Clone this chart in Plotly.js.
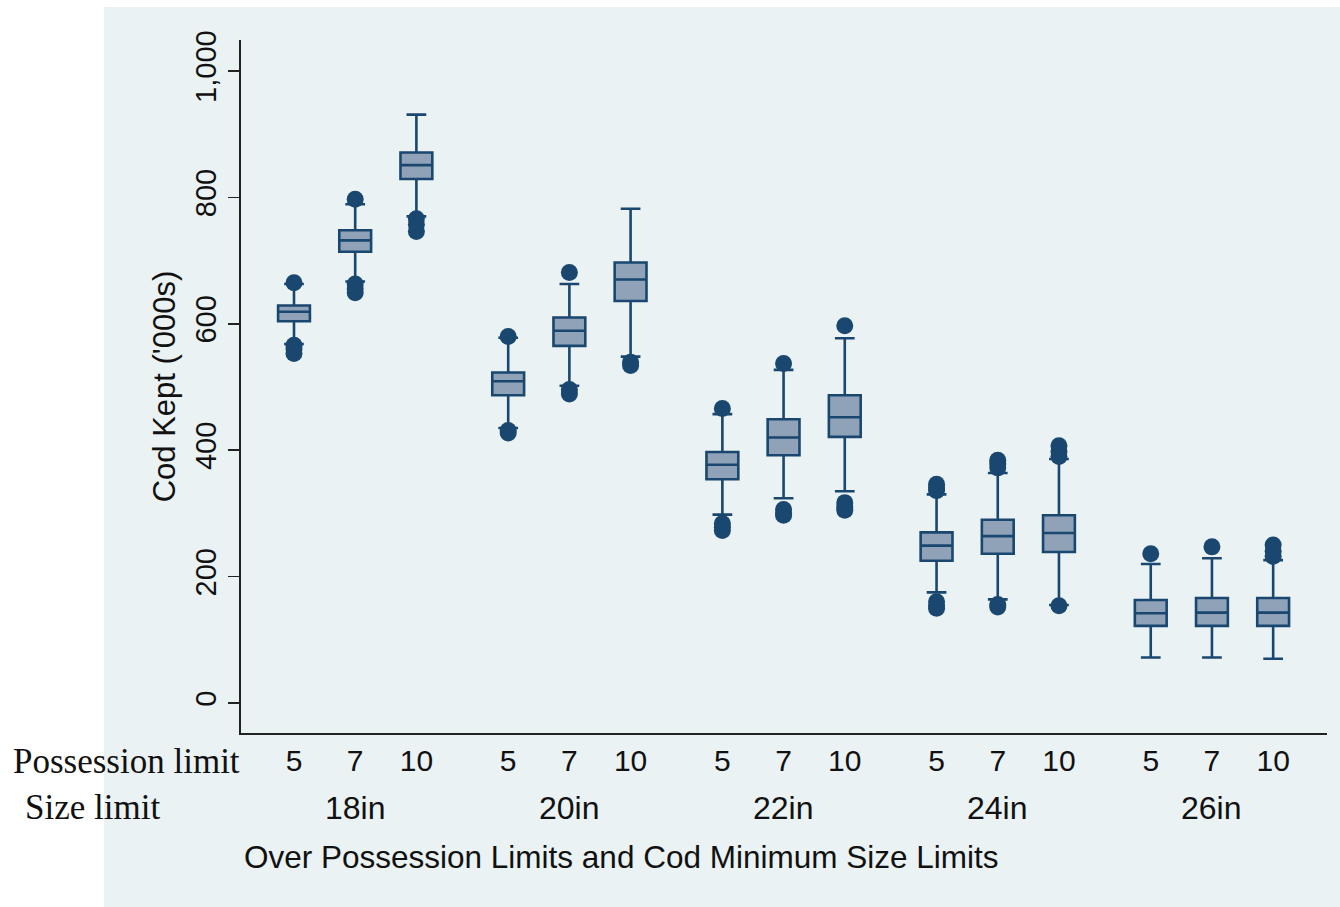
<!DOCTYPE html>
<html>
<head>
<meta charset="utf-8">
<script src="https://cdn.plot.ly/plotly-3.0.1.min.js"></script>
<style>html,body{margin:0;padding:0;background:#fff;}#chart{width:1340px;height:907px;}</style>
</head>
<body>
<div id="chart"></div>
<script>
// Categories
var sizeLimits = ['18in', '20in', '22in', '24in', '26in'];
var possLimits = ['5', '7', '10'];

// Box statistics, ordered: 18in(5,7,10), 20in(5,7,10), 22in, 24in, 26in
var q1         = [604, 714, 829, 487, 565, 636, 354, 392, 421, 225, 236, 239, 122, 122, 122];
var median     = [619, 732, 851, 509, 589, 670, 377, 420, 452, 249, 264, 269, 142, 143, 143];
var q3         = [629, 748, 871, 523, 610, 697, 397, 449, 487, 270, 290, 297, 163, 166, 166];
var lowerFence = [568, 667, 770, 435, 502, 548, 298, 324, 335, 175, 164, 155, 72, 72, 70];
var upperFence = [663, 789, 931, 578, 663, 782, 457, 527, 577, 330, 364, 386, 220, 229, 226];

// Outlying values per box
var outliers = [
  [665, 566, 560, 553],
  [797, 663, 655, 649],
  [766, 757, 746],
  [580, 431, 427],
  [681, 496, 489],
  [539, 534],
  [466, 284, 278, 273],
  [537, 306, 300, 297],
  [597, 317, 310, 305],
  [346, 340, 336, 160, 154, 150],
  [384, 378, 372, 156, 152],
  [407, 398, 390, 154],
  [236],
  [247],
  [250, 240, 232]
];

var yTicks = [0, 200, 400, 600, 800, 1000];
var yTickLabels = ['0', '200', '400', '600', '800', '1,000'];

var navy = 'rgb(26,71,111)';
var fill = 'rgb(143,162,184)';
var panel = 'rgb(234,242,243)';

// positions from category indices
var groupStep = 3.5;
var xs = [], tickText = [];
for (var g = 0; g < sizeLimits.length; g++) {
  for (var p = 0; p < possLimits.length; p++) {
    xs.push(g * groupStep + p);
    tickText.push(possLimits[p]);
  }
}
var ox = [], oy = [];
outliers.forEach(function (arr, i) {
  arr.forEach(function (v) { ox.push(xs[i]); oy.push(v); });
});

var boxTrace = {
  type: 'box',
  x: xs,
  q1: q1, median: median, q3: q3,
  lowerfence: lowerFence, upperfence: upperFence,
  boxpoints: false,
  width: 0.52,
  whiskerwidth: 0.62,
  fillcolor: fill,
  line: {color: navy, width: 2.6},
  hoverinfo: 'skip',
  showlegend: false
};
var outTrace = {
  type: 'scatter', mode: 'markers',
  x: ox, y: oy,
  marker: {color: navy, size: 17, line: {width: 0}},
  hoverinfo: 'skip', showlegend: false
};

var annotations = [];
for (var g2 = 0; g2 < sizeLimits.length; g2++) {
  annotations.push({
    x: g2 * groupStep + 1, xref: 'x', y: -0.108, yref: 'paper',
    text: sizeLimits[g2], showarrow: false,
    font: {family: 'Liberation Sans, Arial, sans-serif', size: 32, color: '#111'},
    xanchor: 'center', yanchor: 'middle'
  });
}
annotations.push({
  x: -0.1055, xref: 'paper', y: -0.0418, yref: 'paper', text: 'Possession limit',
  showarrow: false, xanchor: 'center', yanchor: 'middle',
  font: {family: 'Liberation Serif, Times New Roman, serif', size: 35, color: '#111'}
});
annotations.push({
  x: -0.1367, xref: 'paper', y: -0.108, yref: 'paper', text: 'Size limit',
  showarrow: false, xanchor: 'center', yanchor: 'middle',
  font: {family: 'Liberation Serif, Times New Roman, serif', size: 35, color: '#111'}
});
annotations.push({
  x: 0.35, xref: 'paper', y: -0.179, yref: 'paper',
  text: 'Over Possession Limits and Cod Minimum Size Limits',
  showarrow: false, xanchor: 'center', yanchor: 'middle',
  font: {family: 'Liberation Sans, Arial, sans-serif', size: 31.5, color: '#111'}
});

var layout = {
  width: 1340, height: 907,
  margin: {l: 241, r: 13, t: 40, b: 174},
  paper_bgcolor: '#ffffff',
  plot_bgcolor: '#ffffff',
  showlegend: false,
  font: {family: 'Liberation Sans, Arial, sans-serif', color: '#111'},
  xaxis: {
    range: [-0.866, 16.88],
    tickmode: 'array', tickvals: xs, ticktext: tickText,
    tickfont: {size: 30, color: '#111'},
    ticks: '',
    showgrid: false, zeroline: false,
    showline: true, linecolor: '#222', linewidth: 2,
    fixedrange: true
  },
  yaxis: {
    range: [-47.5, 1049],
    tickmode: 'array', tickvals: yTicks, ticktext: yTickLabels,
    tickangle: -90,
    tickfont: {size: 29, color: '#111'},
    ticks: 'outside', ticklen: 11, tickwidth: 1.5, tickcolor: '#222',
    showgrid: true, gridcolor: panel, gridwidth: 2,
    zeroline: false,
    showline: true, linecolor: '#222', linewidth: 2,
    title: {text: "Cod Kept ('000s)", font: {size: 31, color: '#111'}, standoff: 6},
    fixedrange: true
  },
  shapes: [{
    type: 'rect', xref: 'paper', yref: 'paper', layer: 'below',
    x0: (104 - 241) / 1086, x1: 1.02, y0: -0.2511, y1: (733 - 7) / 693,
    fillcolor: panel, line: {width: 0}
  }],
  annotations: annotations
};

Plotly.newPlot('chart', [boxTrace, outTrace], layout, {displayModeBar: false, staticPlot: true});
</script>
</body>
</html>
